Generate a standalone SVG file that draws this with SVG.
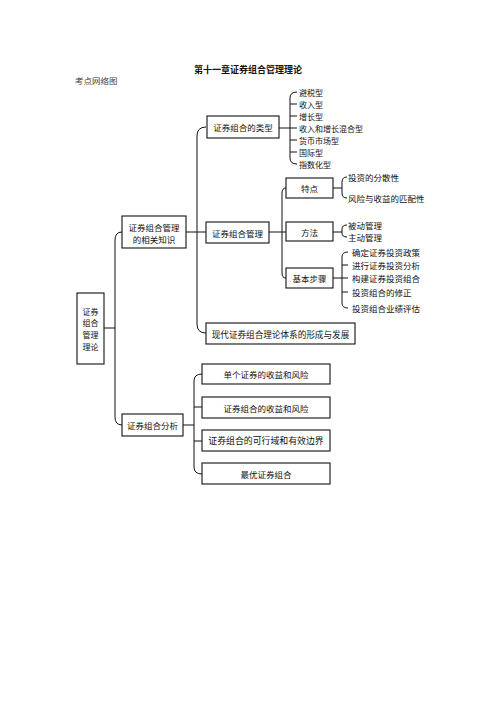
<svg xmlns="http://www.w3.org/2000/svg" width="496" height="702" viewBox="0 0 496 702">
<style>
text{font-family:"Noto Sans CJK SC","Noto Sans CJK TC",sans-serif;font-size:8.5px;fill:#111;dominant-baseline:central}
.c{text-anchor:middle}
.s{font-size:8px}
.box{fill:#fff;stroke:#111;stroke-width:1.1}
.ln{fill:none;stroke:#111;stroke-width:1}
</style>
<rect width="496" height="702" fill="#fff"/>
<text x="248" y="69" class="c" style="font-size:9px;font-weight:bold">第十一章证券组合管理理论</text>
<text x="75" y="80" style="font-size:8.5px;fill:#444">考点网络图</text>
<g id="connectors">
<path class="ln" d="M104,328 H115 M122,232 Q115,232 115,240 L115,417 Q115,425 122,425"/>
<path class="ln" d="M186,232 H206 M206,127 Q197,127 197,136 L197,324 Q197,333 206,333"/>
<path class="ln" d="M279,128 H290 M297,92 Q290,92 290,98 L290,158 Q290,164 297,164 M290,104 H297 M290,116 H297 M290,128 H297 M290,140 H297 M290,152 H297"/>
<path class="ln" d="M269,232 H286 M286,188 Q282,188 282,193 L282,273 Q282,278 286,278"/>
<path class="ln" d="M333,188 H342 M347,177 Q342,177 342,182 L342,193 Q342,198 347,198"/>
<path class="ln" d="M333,232 H342 M347,225 Q342,225 342,229 L342,233 Q342,237 347,237"/>
<path class="ln" d="M333,278 H348 M348,252 Q342,252 342,257 L342,303 Q342,308 348,308 M342,265 H348 M342,292 H348"/>
<path class="ln" d="M183,425 H194 M202,374 Q194,374 194,381 L194,467 Q194,474 202,474 M194,407 H202 M194,441 H202"/>
</g>
<g id="root">
<rect class="box" x="77" y="293" width="27" height="71"/>
<text x="90.5" y="311" class="c s">证券</text>
<text x="90.5" y="322.8" class="c s">组合</text>
<text x="90.5" y="334.6" class="c s">管理</text>
<text x="90.5" y="346.4" class="c s">理论</text>
</g>
<g id="knowledge">
<rect class="box" x="122" y="216" width="64" height="32"/>
<text x="154" y="226.5" class="c">证券组合管理</text>
<text x="154" y="239" class="c">的相关知识</text>
</g>
<g id="types">
<rect class="box" x="207" y="116" width="72" height="22"/>
<text x="243" y="127" class="c">证券组合的类型</text>
</g>
<g id="type-leaves">
<text x="299" y="92" class="s">避税型</text>
<text x="299" y="104" class="s">收入型</text>
<text x="299" y="116" class="s">增长型</text>
<text x="299" y="128" class="s">收入和增长混合型</text>
<text x="299" y="140" class="s">货币市场型</text>
<text x="299" y="152" class="s">国际型</text>
<text x="299" y="164" class="s">指数化型</text>
</g>
<g id="management">
<rect class="box" x="206" y="222" width="63" height="21"/>
<text x="237.5" y="232.5" class="c">证券组合管理</text>
</g>
<g id="features">
<rect class="box" x="286" y="178" width="47" height="20"/>
<text x="309.5" y="188" class="c">特点</text>
<text x="348" y="177">投资的分散性</text>
<text x="348" y="198">风险与收益的匹配性</text>
</g>
<g id="methods">
<rect class="box" x="286" y="222" width="47" height="19"/>
<text x="309.5" y="231.5" class="c">方法</text>
<text x="348" y="225">被动管理</text>
<text x="348" y="237">主动管理</text>
</g>
<g id="steps">
<rect class="box" x="286" y="268" width="47" height="20"/>
<text x="309.5" y="278" class="c">基本步骤</text>
<text x="352" y="252">确定证券投资政策</text>
<text x="352" y="265">进行证券投资分析</text>
<text x="352" y="278">构建证券投资组合</text>
<text x="352" y="292">投资组合的修正</text>
<text x="352" y="308">投资组合业绩评估</text>
</g>
<g id="modern">
<rect class="box" x="206" y="323" width="149" height="21"/>
<text x="280.5" y="333.5" class="c" style="font-size:8.6px">现代证券组合理论体系的形成与发展</text>
</g>
<g id="analysis">
<rect class="box" x="122" y="414" width="61" height="22"/>
<text x="152.5" y="425" class="c">证券组合分析</text>
</g>
<g id="a1">
<rect class="box" x="202" y="364" width="128" height="20"/>
<text x="266" y="374" class="c">单个证券的收益和风险</text>
</g>
<g id="a2">
<rect class="box" x="202" y="397" width="128" height="21"/>
<text x="266" y="407.5" class="c">证券组合的收益和风险</text>
</g>
<g id="a3">
<rect class="box" x="202" y="430" width="128" height="21"/>
<text x="266" y="440.5" class="c" style="font-size:8.9px">证券组合的可行域和有效边界</text>
</g>
<g id="a4">
<rect class="box" x="202" y="463" width="128" height="21"/>
<text x="266" y="473.5" class="c">最优证券组合</text>
</g>
</svg>
